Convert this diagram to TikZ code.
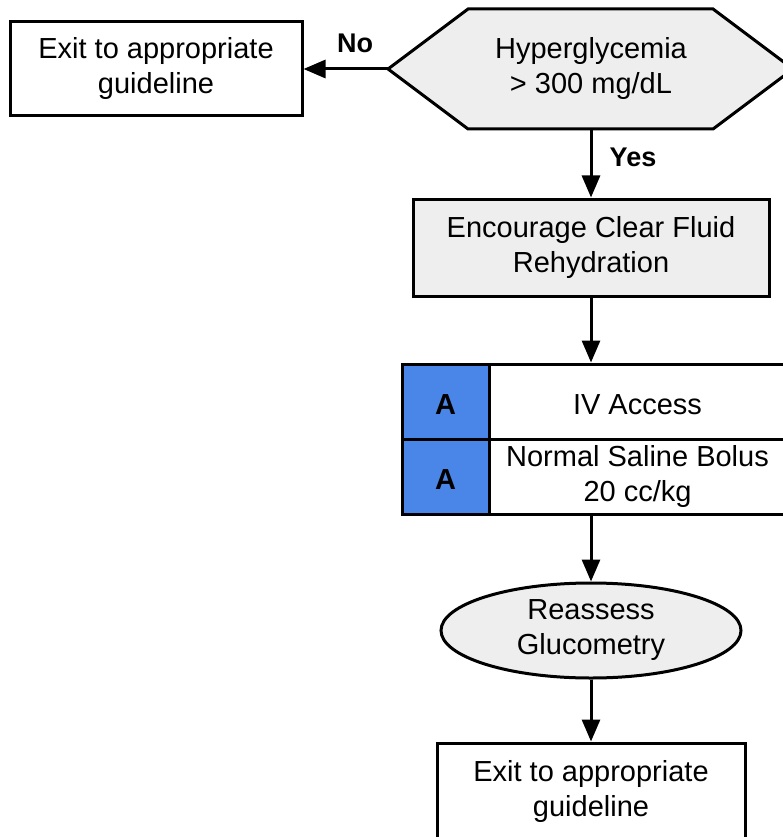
\documentclass[tikz,border=0pt]{standalone}
\usepackage{fontspec}
\setmainfont{Liberation Sans}
\usetikzlibrary{arrows.meta,shapes.geometric}
\definecolor{boxgray}{HTML}{EEEEEE}
\definecolor{levelblue}{HTML}{4A86E8}
\begin{document}
\begin{tikzpicture}[x=1pt,y=-1pt,
  txt/.style={font=\fontsize{29}{35}\selectfont, align=center, inner sep=0pt,
    execute at begin node={\rule{0pt}{26pt}}},
  flowbox/.style={txt, draw, line width=3pt, rectangle},
  lvl/.style={flowbox, fill=levelblue, font=\fontsize{29}{35}\selectfont\bfseries,
    minimum width=87pt, minimum height=75pt},
  cell/.style={flowbox, fill=white, minimum width=297pt, minimum height=75pt},
  flow/.style={line width=3pt, -{Triangle[length=22pt,width=18pt]}},
  lbl/.style={font=\fontsize{27}{30}\selectfont\bfseries, inner sep=0pt}
]
\useasboundingbox (0,0) rectangle (783,837);
\clip (0,0) rectangle (783,837);

% decision hexagon
\coordinate (hexL) at (388,69);
\coordinate (hexB) at (591,129);
\draw[line width=3pt, fill=boxgray, line join=miter]
  (hexL) -- (468,9) -- (713,9) -- (793,69) -- (713,129) -- (468,129) -- cycle;
\node[txt] (hyper) at (591,69) {Hyperglycemia\\> 300 mg/dL};

% exit on "No"
\node[flowbox, minimum width=292pt, minimum height=94pt] (exitA) at (156,69)
  {Exit to appropriate\\guideline};
\draw[flow] (hexL) -- (exitA.east);
\node[lbl] (no) at (355,43) {No};

% rehydration
\node[flowbox, fill=boxgray, minimum width=356pt, minimum height=97pt] (enc) at (591,247.5)
  {Encourage Clear Fluid\\Rehydration};
\draw[flow] (hexB) -- (enc.north);
\node[lbl] (yes) at (633,157) {Yes};

% interventions table
\node[lvl]  (a1)  at (445.5,401.5) {A};
\node[cell] (iv)  at (637.5,401.5) {IV Access};
\node[lvl]  (a2)  at (445.5,476.5) {A};
\node[cell] (ns)  at (637.5,476.5) {Normal Saline Bolus\\20 cc/kg};
\draw[flow] (enc.south) -- (enc.south |- iv.north);

% reassessment
\node[txt, ellipse, draw, line width=3pt, fill=boxgray, minimum width=300pt, minimum height=95pt]
  (reas) at (591,630.5) {Reassess\\Glucometry};
\draw[flow] (reas.north |- ns.south) -- (reas.north);

% final exit
\node[flowbox, minimum width=308pt, minimum height=97pt] (exitB) at (591,791.5)
  {Exit to appropriate\\guideline};
\draw[flow] (reas.south) -- (exitB.north);
\end{tikzpicture}
\end{document}
